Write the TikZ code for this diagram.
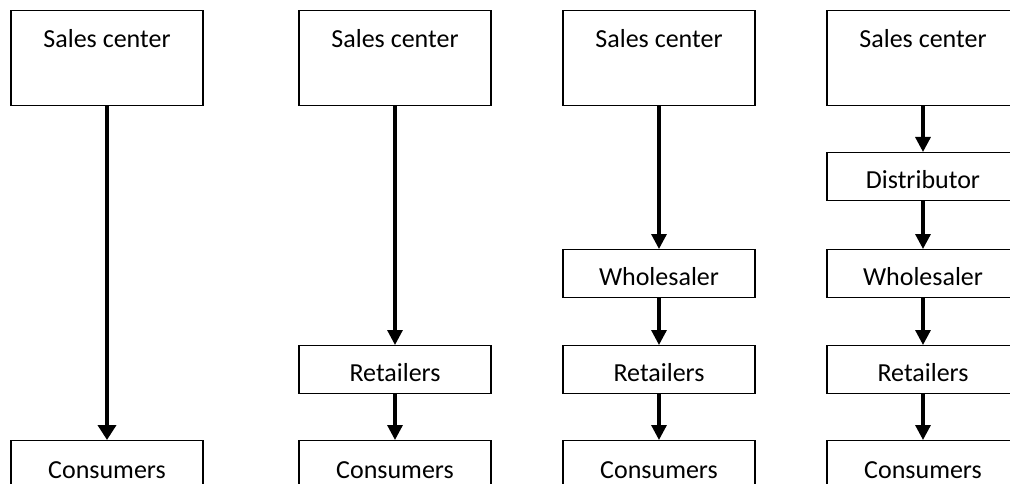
\documentclass[tikz,border=0pt]{standalone}
\usepackage{fontspec}
\setmainfont{Carlito}
\usetikzlibrary{arrows.meta}
\begin{document}
\begin{tikzpicture}[x=1pt,y=-1pt,
  bigbox/.style={draw, line width=1.3pt, rectangle, anchor=north, minimum width=192pt,
    inner sep=0pt, text height=37pt, text depth=58pt, font=\fontsize{26}{30}\selectfont},
  smallbox/.style={draw, line width=1.3pt, rectangle, anchor=north, minimum width=192pt,
    inner sep=0pt, text height=36pt, text depth=12pt, font=\fontsize{26}{30}\selectfont},
  flow/.style={line width=3.2pt, -{Triangle[width=15pt,length=15pt]}},
  bigflow/.style={line width=3.8pt, -{Triangle[width=18pt,length=15pt]}}]
\useasboundingbox (0,0) rectangle (1010,484);
\clip (0,0) rectangle (1010,484);
% column 1
\node[bigbox] (s1) at (107,10) {Sales center};
\node[bigbox, text height=38pt, text depth=57pt] (c1) at (107,440) {Consumers};
\draw[bigflow] (s1.south) -- (c1.north);
% column 2
\node[bigbox] (s2) at (395,10) {Sales center};
\node[smallbox] (r2) at (395,345) {Retailers};
\node[bigbox, text height=38pt, text depth=57pt] (c2) at (395,440) {Consumers};
\draw[flow] (s2.south) -- (r2.north);
\draw[flow] (r2.south) -- (c2.north);
% column 3
\node[bigbox] (s3) at (659,10) {Sales center};
\node[smallbox] (w3) at (659,249) {Wholesaler};
\node[smallbox] (r3) at (659,345) {Retailers};
\node[bigbox, text height=38pt, text depth=57pt] (c3) at (659,440) {Consumers};
\draw[flow] (s3.south) -- (w3.north);
\draw[flow] (w3.south) -- (r3.north);
\draw[flow] (r3.south) -- (c3.north);
% column 4
\node[bigbox] (s4) at (923,10) {Sales center};
\node[smallbox] (d4) at (923,152) {Distributor};
\node[smallbox] (w4) at (923,249) {Wholesaler};
\node[smallbox] (r4) at (923,345) {Retailers};
\node[bigbox, text height=38pt, text depth=57pt] (c4) at (923,440) {Consumers};
\draw[flow] (s4.south) -- (d4.north);
\draw[flow] (d4.south) -- (w4.north);
\draw[flow] (w4.south) -- (r4.north);
\draw[flow] (r4.south) -- (c4.north);
\end{tikzpicture}
\end{document}
